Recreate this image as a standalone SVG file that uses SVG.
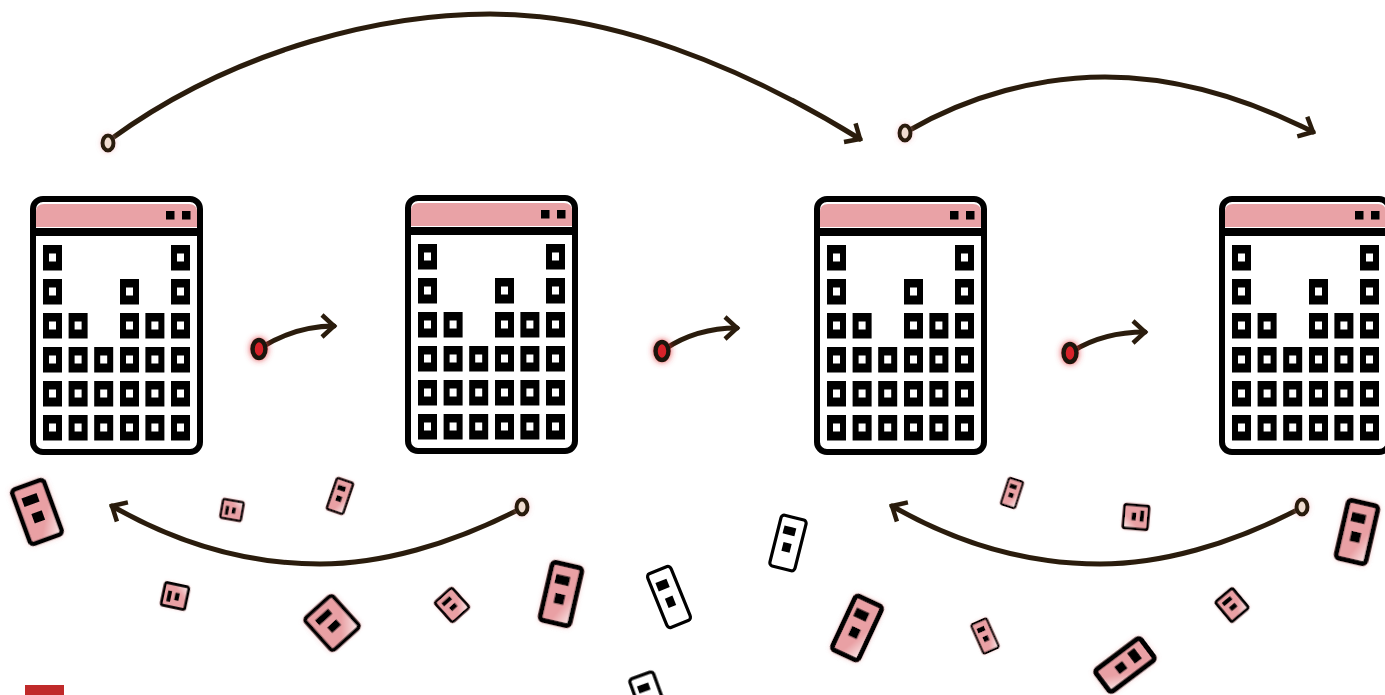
<svg xmlns="http://www.w3.org/2000/svg" width="1385" height="695" viewBox="0 0 1385 695">
<style>
.lnk{fill:none;stroke:#2a1c0a;stroke-width:5;stroke-linecap:round;marker-end:url(#ah)}
.dot{stroke:#2a1c0a;stroke-width:4;fill:#f0dcd0;filter:url(#halo)}
.hot{stroke:#1f1208;stroke-width:4.500;fill:#d8232a;filter:url(#glow)}
.tile{stroke:#000;vector-effect:non-scaling-stroke;stroke-linejoin:round}
.p{fill:url(#pk);filter:url(#soft)}
.w{fill:#fff}
.m{fill:#000}
</style>
<defs>
<filter id="all" filterUnits="userSpaceOnUse" x="0" y="0" width="1385" height="695"><feGaussianBlur stdDeviation=".55"/></filter>
<filter id="glow" x="-100%" y="-100%" width="300%" height="300%"><feGaussianBlur in="SourceGraphic" stdDeviation="3" result="b"/><feFlood flood-color="#e2383c" flood-opacity=".9"/><feComposite in2="b" operator="in" result="c"/><feMerge><feMergeNode in="c"/><feMergeNode in="SourceGraphic"/></feMerge></filter>
<filter id="halo" x="-100%" y="-100%" width="300%" height="300%"><feGaussianBlur in="SourceAlpha" stdDeviation="2.500" result="b"/><feFlood flood-color="#e99a9e" flood-opacity=".5"/><feComposite in2="b" operator="in" result="c"/><feMerge><feMergeNode in="c"/><feMergeNode in="SourceGraphic"/></feMerge></filter>
<filter id="soft" x="-30%" y="-30%" width="160%" height="160%"><feGaussianBlur in="SourceAlpha" stdDeviation="2.500" result="b"/><feFlood flood-color="#e99a9e" flood-opacity=".45"/><feComposite in2="b" operator="in" result="c"/><feMerge><feMergeNode in="c"/><feMergeNode in="SourceGraphic"/></feMerge></filter>
<linearGradient id="pk" x1="0" y1="0" x2="1" y2="1"><stop offset="0" stop-color="#e9a0a4"/><stop offset=".66" stop-color="#e9a0a4"/><stop offset="1" stop-color="#fbeeee"/></linearGradient>
<marker id="ah" markerUnits="userSpaceOnUse" markerWidth="32" markerHeight="32" refX="15" refY="16" orient="auto"><path d="M3 5L15 16L3 27" fill="none" stroke="#2a1c0a" stroke-width="4.500" stroke-linecap="butt" stroke-linejoin="miter"/></marker>
<g id="cell"><rect x="0" y="0" width="19" height="25.500" fill="#000"/><rect x="6" y="8.500" width="7" height="8" fill="#fff"/></g>
<g id="win">
<rect x="33" y="199" width="167" height="253" rx="10" fill="#fff" stroke="#000" stroke-width="6"/>
<path d="M36 227V212Q36 204 44 204H189Q197 204 197 212V227Z" fill="#e9a2a6"/>
<rect x="30" y="228" width="173" height="8" fill="#000"/>
<rect x="166" y="211" width="8.500" height="8.500" fill="#000"/><rect x="182" y="211" width="8.500" height="8.500" fill="#000"/>
<use href="#cell" x="43" y="245"/><use href="#cell" x="171" y="245"/>
<use href="#cell" x="43" y="279"/><use href="#cell" x="120" y="279"/><use href="#cell" x="171" y="279"/>
<use href="#cell" x="43" y="313"/><use href="#cell" x="68.600" y="313"/><use href="#cell" x="120" y="313"/><use href="#cell" x="145.400" y="313"/><use href="#cell" x="171" y="313"/>
<use href="#cell" x="43" y="347"/><use href="#cell" x="68.600" y="347"/><use href="#cell" x="94.200" y="347"/><use href="#cell" x="120" y="347"/><use href="#cell" x="145.400" y="347"/><use href="#cell" x="171" y="347"/>
<use href="#cell" x="43" y="381"/><use href="#cell" x="68.600" y="381"/><use href="#cell" x="94.200" y="381"/><use href="#cell" x="120" y="381"/><use href="#cell" x="145.400" y="381"/><use href="#cell" x="171" y="381"/>
<use href="#cell" x="43" y="415"/><use href="#cell" x="68.600" y="415"/><use href="#cell" x="94.200" y="415"/><use href="#cell" x="120" y="415"/><use href="#cell" x="145.400" y="415"/><use href="#cell" x="171" y="415"/>
</g>
<g id="t"><rect class="tile" x="-17" y="-29" width="34" height="58" rx="4"/><rect class="m" x="-10" y="-18" width="16" height="9"/><rect class="m" x="-6" y="0" width="11" height="10"/></g>
</defs>
<g filter="url(#all)">
<g id="connectors">
<path class="lnk" d="M111 139C240 45 390 14 490 14C610 14 740 65 860 139"/>
<path class="lnk" d="M908 131C970 95 1040 77 1105 77C1180 77 1250 100 1313 132"/>
<path class="lnk" d="M520 509C450 545 380 564 320 564C250 564 180 545 112 506"/>
<path class="lnk" d="M1299 509C1230 545 1160 564 1100 564C1030 564 960 545 892 506"/>
<path class="lnk" d="M262 347C285 333 308 326 334 326"/>
<path class="lnk" d="M665 349C686 335 710 328 737 328"/>
<path class="lnk" d="M1073 351C1094 338 1118 332 1145 332"/>
</g>
<g id="sources">
<ellipse class="dot" cx="108" cy="143" rx="5.500" ry="7.500"/>
<ellipse class="dot" cx="905" cy="133" rx="5.500" ry="7.500"/>
<ellipse class="dot" cx="522" cy="507" rx="5.500" ry="7.500"/>
<ellipse class="dot" cx="1302" cy="507" rx="5.500" ry="7.500"/>
<ellipse class="hot" cx="259" cy="349" rx="6.500" ry="9"/>
<ellipse class="hot" cx="662" cy="351" rx="6.500" ry="9"/>
<ellipse class="hot" cx="1070" cy="353" rx="6.500" ry="9"/>
</g>
<g id="window-1"><use href="#win"/></g>
<g id="window-2"><use href="#win" x="375" y="-1"/></g>
<g id="window-3"><use href="#win" x="784"/></g>
<g id="window-4"><use href="#win" x="1189"/></g>
<g id="tiles">
<use id="tile-1" class="p" stroke-width="4.500" href="#t" transform="translate(37,512) rotate(-20)"/>
<use id="tile-2" class="p" stroke-width="2.500" href="#t" transform="translate(232,510) rotate(-80) scale(.56,.36)"/>
<use id="tile-3" class="p" stroke-width="2.500" href="#t" transform="translate(340,496) rotate(19) scale(.51,.57)"/>
<use id="tile-4" class="p" stroke-width="2.800" href="#t" transform="translate(175,596) rotate(-78) scale(.68,.42)"/>
<use id="tile-5" class="p" stroke-width="4" href="#t" transform="translate(332,623) rotate(-42) scale(1.100,.74)"/>
<use id="tile-6" class="p" stroke-width="2.800" href="#t" transform="translate(452,605) rotate(-42) scale(.68,.46)"/>
<use id="tile-7" class="p" stroke-width="5" href="#t" transform="translate(561,594) rotate(13) scale(.9,1.030)"/>
<use id="tile-8" class="w" stroke-width="3.200" href="#t" transform="translate(669,597) rotate(-22) scale(.74,1)"/>
<use id="tile-9" class="w" stroke-width="3.200" href="#t" transform="translate(649,698) rotate(-20) scale(.74,.83)"/>
<use id="tile-10" class="w" stroke-width="3.200" href="#t" transform="translate(788,543) rotate(14) scale(.76,.9)"/>
<use id="tile-11" class="p" stroke-width="2.200" href="#t" transform="translate(1012,493) rotate(18) scale(.44,.48)"/>
<use id="tile-12" class="p" stroke-width="2.800" href="#t" transform="translate(1136,517) rotate(95) scale(.7,.43)"/>
<use id="tile-13" class="p" stroke-width="5" href="#t" transform="translate(1357,532) rotate(13) scale(.9,1.030)"/>
<use id="tile-14" class="p" stroke-width="5" href="#t" transform="translate(857,628) rotate(25) scale(.86,1.030)"/>
<use id="tile-15" class="p" stroke-width="2.200" href="#t" transform="translate(985,636) rotate(-24) scale(.5,.55)"/>
<use id="tile-16" class="p" stroke-width="5" href="#t" transform="translate(1125,665) rotate(53) scale(.8,.97)"/>
<use id="tile-17" class="p" stroke-width="2.800" href="#t" transform="translate(1232,605) rotate(-40) scale(.66,.45)"/>
</g>
<rect id="red-block" x="25" y="685" width="39" height="10" fill="#c02a2a"/>
</g>
</svg>
